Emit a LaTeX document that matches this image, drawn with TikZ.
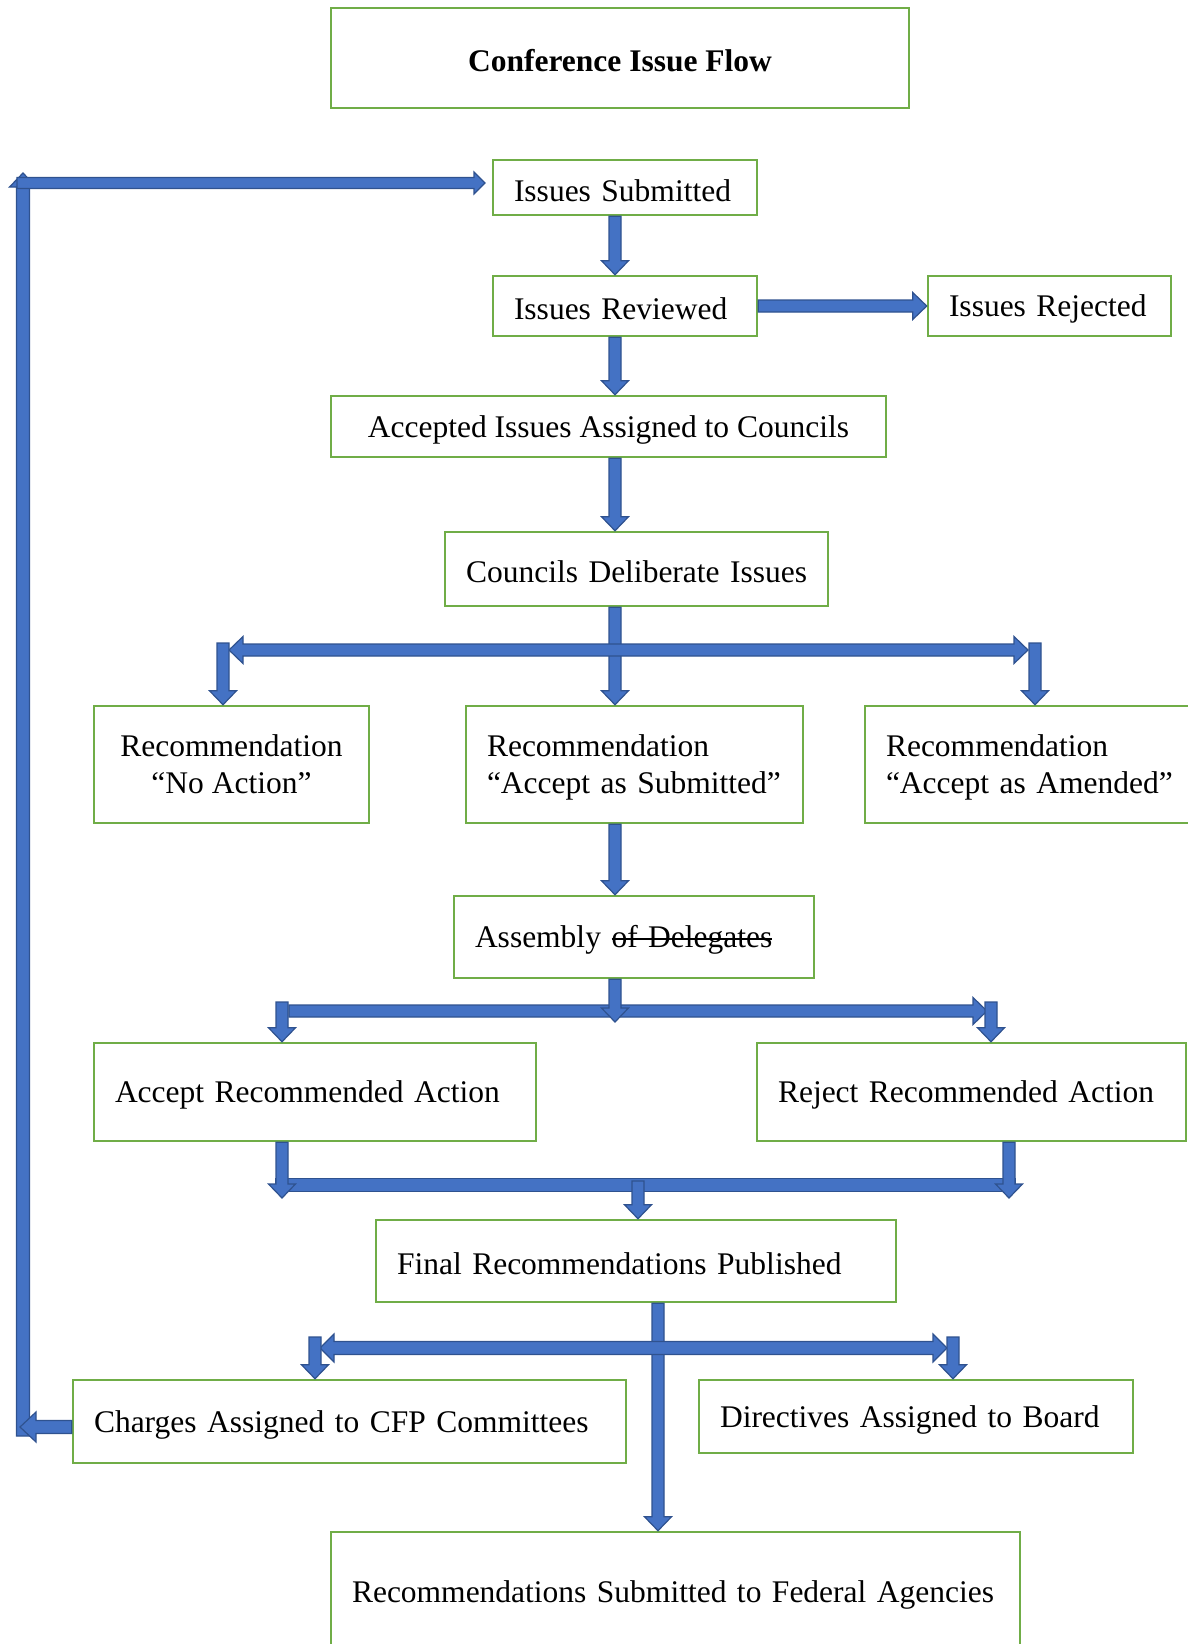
\documentclass[tikz,border=0pt]{standalone}
\usepackage{fontspec}
\setmainfont{Liberation Serif}
\usetikzlibrary{calc}
\definecolor{boxgreen}{HTML}{70AD47}
\definecolor{arrfill}{HTML}{4472C4}
\definecolor{arrline}{HTML}{2F528F}
\newcommand\strk[1]{\setbox0=\hbox{#1}\rlap{\rule[0.25em]{\wd0}{0.8pt}}\box0}
% point at distance #1 along the arrow and #2 across it (pt)
\newcommand\bpt[2]{({\x1+(#1)*\n2-(#2)*\n3},{\y1+(#1)*\n3+(#2)*\n2})}
% single block arrow: start, tip, half shaft, half head, head length
\newcommand\blkA[5]{\draw[blk] let \p1=(#1),\p2=(#2),\n1={veclen(\x2-\x1,\y2-\y1)},\n2={(\x2-\x1)/\n1},\n3={(\y2-\y1)/\n1} in
  \bpt{0}{#3} -- \bpt{\n1-#5}{#3} -- \bpt{\n1-#5}{#4} -- (\p2) -- \bpt{\n1-#5}{-#4} -- \bpt{\n1-#5}{-#3} -- \bpt{0}{-#3} -- cycle;}
% double-headed block arrow
\newcommand\blkD[5]{\draw[blk] let \p1=(#1),\p2=(#2),\n1={veclen(\x2-\x1,\y2-\y1)},\n2={(\x2-\x1)/\n1},\n3={(\y2-\y1)/\n1} in
  (\p1) -- \bpt{#5}{#4} -- \bpt{#5}{#3} -- \bpt{\n1-#5}{#3} -- \bpt{\n1-#5}{#4} -- (\p2) -- \bpt{\n1-#5}{-#4} -- \bpt{\n1-#5}{-#3} -- \bpt{#5}{-#3} -- \bpt{#5}{-#4} -- cycle;}
% plain bar
\newcommand\blkB[3]{\draw[blk] let \p1=(#1),\p2=(#2),\n1={veclen(\x2-\x1,\y2-\y1)},\n2={(\x2-\x1)/\n1},\n3={(\y2-\y1)/\n1} in
  \bpt{0}{#3} -- \bpt{\n1}{#3} -- \bpt{\n1}{-#3} -- \bpt{0}{-#3} -- cycle;}
\newcommand\arr[2]{\blkA{#1}{#2}{3}{6.75}{7}}
\newcommand\darr[2]{\blkD{#1}{#2}{3}{6.75}{7}}
\begin{document}
\begin{tikzpicture}[x=0.5pt,y=-0.5pt,
  box/.style={draw=boxgreen, line width=1.25pt, inner xsep=10.5pt, inner ysep=0pt,
    align=left, font=\fontsize{15.75}{18.4}\selectfont, text=black,
    execute at begin node={\rule{0pt}{14.1pt}}},
  blk/.style={fill=arrfill, draw=arrline, line width=0.6pt, line join=miter}]
\useasboundingbox (0,0) rectangle (1188,1644);
\clip (0,0) rectangle (1188,1644);

% boxes
\node[box, align=center, minimum width=289pt, minimum height=50pt,
  font=\fontsize{15.75}{18.4}\selectfont\bfseries] (title) at (620,58) {Conference Issue Flow};
\node[box, text width=111pt, minimum height=27.5pt] (sub) at (625,187.5) {\mbox{Issues Submitted}};
\node[box, text width=111pt, minimum height=30pt] (rev) at (625,306) {\mbox{Issues Reviewed}};
\node[box, text width=100.5pt, minimum height=30pt] (rej) at (1049.5,306) {\mbox{Issues Rejected}};
\node[box, align=center, minimum width=277.5pt, minimum height=30.5pt] (acc) at (608.5,426.5) {Accepted Issues Assigned to Councils};
\node[box, text width=170.5pt, minimum height=37pt] (cou) at (636.5,569) {\mbox{Councils Deliberate Issues}};
\node[box, align=center, minimum width=137.5pt, minimum height=58.5pt] (noa) at (231.5,764.5) {Recommendation\\“No Action”};
\node[box, text width=147.5pt, minimum height=58.5pt] (sbm) at (634.5,764.5) {\mbox{Recommendation}\\\mbox{“Accept as Submitted”}};
\node[box, text width=161.5pt, minimum height=58.5pt] (amd) at (1047.5,764.5) {\mbox{Recommendation}\\\mbox{“Accept as Amended”}};
\node[box, text width=159pt, minimum height=41pt] (asm) at (634,937) {\mbox{Assembly \strk{of Delegates}}};
\node[box, text width=200pt, minimum height=49pt] (acr) at (315,1092) {\mbox{Accept Recommended Action}};
\node[box, text width=193.5pt, minimum height=49pt] (rjr) at (971.5,1092) {\mbox{Reject Recommended Action}};
\node[box, text width=239pt, minimum height=41pt] (fin) at (636,1261) {\mbox{Final Recommendations Published}};
\node[box, text width=255.5pt, minimum height=41.5pt] (cha) at (349.5,1421.5) {\mbox{Charges Assigned to CFP Committees}};
\node[box, text width=196pt, minimum height=36.5pt] (dir) at (916,1416.5) {\mbox{Directives Assigned to Board}};
\node[box, text width=323.5pt, minimum height=60pt] (fed) at (675.5,1592) {\mbox{Recommendations Submitted to Federal Agencies}};

% junction coordinates
\coordinate (cA) at (615,0);
\coordinate (cF) at (658,0);
\coordinate (bL1) at (229,650);  \coordinate (bR1) at (1028,650);
\coordinate (dL1) at (223,643);  \coordinate (dR1) at (1035,643);
\coordinate (bL2) at (289,1011); \coordinate (bR2) at (987,1011);
\coordinate (aT) at (615,1022);
\coordinate (dL2) at (282,1002); \coordinate (dR2) at (991,1002);
\coordinate (uL) at (282,1198);  \coordinate (uR) at (1009,1198);
\coordinate (bL3) at (276,1185); \coordinate (bR3) at (1015,1185);
\coordinate (mC) at (638,1181);
\coordinate (bL4) at (320,1348); \coordinate (bR4) at (947,1348);
\coordinate (dL4) at (315,1337); \coordinate (dR4) at (953,1337);
\coordinate (lS) at ($(cha.west)+(0,5.5)$);
\coordinate (lT) at (20,1427);
\coordinate (vB) at (23,1436);   \coordinate (vT) at (23,173);
\coordinate (hL) at (17,183);    \coordinate (hR) at (485,183);

% main stems
\arr{sub.south -| cA}{rev.north -| cA}
\arr{rev.east}{rej.west}
\arr{rev.south -| cA}{acc.north -| cA}
\arr{acc.south -| cA}{cou.north -| cA}
\arr{cou.south -| cA}{sbm.north -| cA}
\arr{sbm.south -| cA}{asm.north -| cA}
\arr{fin.south -| cF}{fed.north -| cF}
\blkA{vB}{vT}{3.25}{6.75}{7}

% bars
\darr{bL1}{bR1}
\arr{bL2}{bR2}
\blkB{bL3}{bR3}{3.25}
\blkD{bL4}{bR4}{3.25}{7}{7}
\blkA{hL}{hR}{2.75}{5.5}{5.5}

% stems over bars
\arr{asm.south -| cA}{aT}
\arr{mC}{fin.north -| mC}

% branch arrows
\arr{dL1}{noa.north -| dL1}
\arr{dR1}{amd.north -| dR1}
\arr{dL2}{acr.north -| dL2}
\arr{dR2}{rjr.north -| dR2}
\arr{acr.south -| uL}{uL}
\arr{rjr.south -| uR}{uR}
\arr{dL4}{cha.north -| dL4}
\arr{dR4}{dir.north -| dR4}
\blkA{lS}{lT}{3.25}{7.5}{8}
\end{tikzpicture}
\end{document}
